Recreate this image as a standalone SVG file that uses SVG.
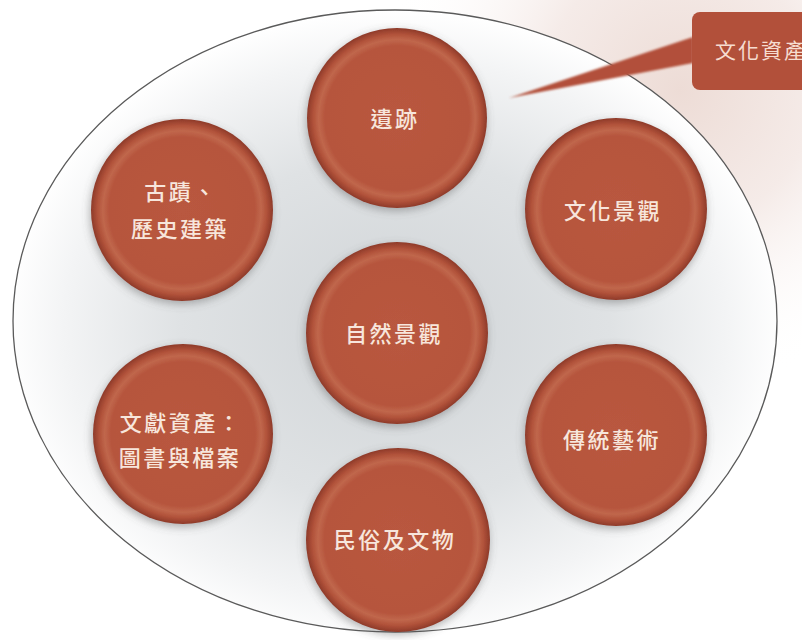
<svg xmlns="http://www.w3.org/2000/svg" width="802" height="640" viewBox="0 0 802 640">
  <defs>
    <radialGradient id="bgPink" cx="680" cy="90" r="300" gradientUnits="userSpaceOnUse">
      <stop offset="0" stop-color="#eddcd6"/>
      <stop offset="0.45" stop-color="#f5ebe8"/>
      <stop offset="1" stop-color="#ffffff" stop-opacity="0"/>
    </radialGradient>
    <radialGradient id="ovalFill" cx="395" cy="330" r="390" gradientUnits="userSpaceOnUse" gradientTransform="translate(395 330) scale(1 0.82) translate(-395 -330)">
      <stop offset="0" stop-color="#d0d4d7"/>
      <stop offset="0.55" stop-color="#dfe2e4"/>
      <stop offset="0.85" stop-color="#f3f4f5"/>
      <stop offset="1" stop-color="#ffffff"/>
    </radialGradient>
    <radialGradient id="disc" cx="0.5" cy="0.5" r="0.5">
      <stop offset="0" stop-color="#b9583f"/>
      <stop offset="0.8" stop-color="#b6553d"/>
      <stop offset="0.87" stop-color="#c0674c"/>
      <stop offset="0.93" stop-color="#b1523a"/>
      <stop offset="1" stop-color="#8e3a29"/>
    </radialGradient>
    <filter id="shadow" x="-20%" y="-20%" width="140%" height="140%">
      <feGaussianBlur in="SourceAlpha" stdDeviation="4"/>
      <feOffset dx="-1" dy="3" result="b"/>
      <feFlood flood-color="#5a5a5a" flood-opacity="0.45"/>
      <feComposite in2="b" operator="in"/>
      <feMerge>
        <feMergeNode/>
        <feMergeNode in="SourceGraphic"/>
      </feMerge>
    </filter>
    <filter id="soft" x="-20%" y="-20%" width="140%" height="140%">
      <feGaussianBlur stdDeviation="1"/>
    </filter>
  </defs>
  <style>
    .disc { fill: url(#disc); filter: url(#shadow); }
    .lbl { font-family: "Noto Sans CJK TC", "Noto Sans CJK SC", sans-serif; font-size: 22px; font-weight: 500; fill: #f7e6dc; text-anchor: middle; letter-spacing: 2.5px; }
    .callout { fill: #b2503a; }
    .ctext { font-family: "Noto Sans CJK TC", "Noto Sans CJK SC", sans-serif; font-size: 21px; fill: #f6dcd0; letter-spacing: 2px; }
  </style>

  <rect width="802" height="640" fill="#ffffff"/>
  <rect x="380" y="0" width="422" height="400" fill="url(#bgPink)"/>

  <g id="container">
    <ellipse cx="395" cy="321" rx="382" ry="311" fill="url(#ovalFill)" stroke="#5a5a5a" stroke-width="1.3"/>
  </g>

  <g id="connectors">
    <path d="M693 37 L509 98 L693 63 Z" class="callout" filter="url(#soft)"/>
  </g>

  <g id="callout">
    <rect x="692" y="12" width="150" height="78" rx="8" class="callout"/>
    <text x="715" y="58" class="ctext">文化資產</text>
  </g>

  <g id="n-yiji">
    <circle cx="397" cy="118" r="90" class="disc"/>
    <text x="395" y="126.5" class="lbl">遺跡</text>
  </g>
  <g id="n-guji">
    <circle cx="182" cy="210" r="91" class="disc"/>
    <text x="181" y="200" class="lbl">古蹟、</text>
    <text x="180" y="236.5" class="lbl">歷史建築</text>
  </g>
  <g id="n-wenhua">
    <circle cx="616" cy="209" r="91" class="disc"/>
    <text x="613" y="218.5" class="lbl">文化景觀</text>
  </g>
  <g id="n-ziran">
    <circle cx="397" cy="333" r="91" class="disc"/>
    <text x="394" y="341.5" class="lbl">自然景觀</text>
  </g>
  <g id="n-wenxian">
    <circle cx="183" cy="434" r="90" class="disc"/>
    <text x="181" y="430.5" class="lbl">文獻資產：</text>
    <text x="180" y="465.5" class="lbl">圖書與檔案</text>
  </g>
  <g id="n-chuantong">
    <circle cx="616" cy="435" r="91" class="disc"/>
    <text x="612" y="447.5" class="lbl">傳統藝術</text>
  </g>
  <g id="n-minsu">
    <circle cx="398" cy="540" r="92" class="disc"/>
    <text x="395" y="547.5" class="lbl">民俗及文物</text>
  </g>
</svg>
